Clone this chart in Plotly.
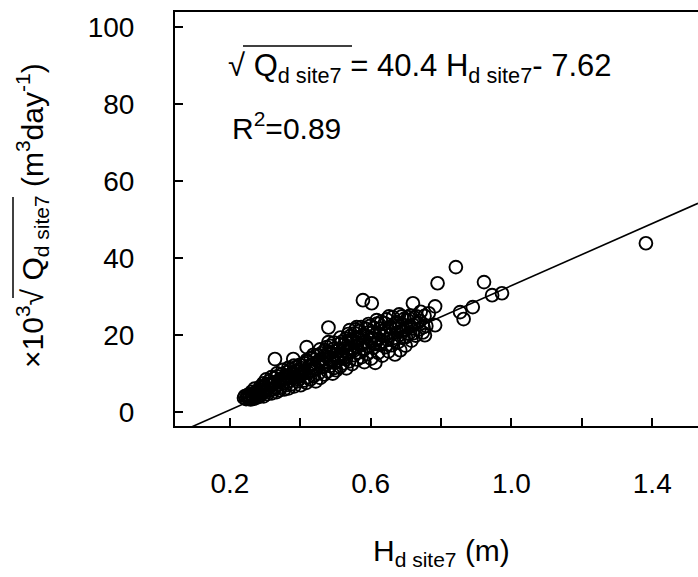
import plotly.graph_objects as go

# ---- data ----
H_d = [
    0.240, 0.243, 0.246, 0.249, 0.251, 0.254, 0.256, 0.259, 0.261, 0.263, 0.266, 0.268,
    0.271, 0.273, 0.276, 0.278, 0.281, 0.283, 0.286, 0.288, 0.291, 0.293, 0.296, 0.298,
    0.301, 0.304, 0.306, 0.309, 0.312, 0.314, 0.317, 0.319, 0.322, 0.325, 0.327, 0.330,
    0.333, 0.335, 0.338, 0.340, 0.343, 0.346, 0.348, 0.351, 0.354, 0.356, 0.359, 0.362,
    0.364, 0.367, 0.370, 0.372, 0.375, 0.378, 0.380, 0.383, 0.386, 0.388, 0.391, 0.394,
    0.396, 0.399,
    0.401, 0.404, 0.406, 0.409, 0.412, 0.414, 0.417, 0.420, 0.422, 0.425, 0.428, 0.430,
    0.433, 0.436, 0.438, 0.441, 0.444, 0.446, 0.449, 0.452, 0.454, 0.457, 0.460, 0.462,
    0.465, 0.468, 0.470, 0.473, 0.476, 0.478, 0.481, 0.484, 0.486, 0.489, 0.492, 0.494,
    0.497, 0.499,
    0.502, 0.505, 0.507, 0.510, 0.513, 0.515, 0.518, 0.521, 0.523, 0.526, 0.529, 0.531,
    0.534, 0.537, 0.539, 0.542, 0.545, 0.547, 0.550, 0.553, 0.555, 0.558, 0.561, 0.563,
    0.566, 0.569, 0.571, 0.574, 0.577, 0.579, 0.582, 0.585, 0.587, 0.590, 0.593, 0.595,
    0.598,
    0.601, 0.604, 0.607, 0.610, 0.613, 0.615, 0.618, 0.621, 0.624, 0.627, 0.630, 0.633,
    0.636, 0.639, 0.642, 0.645, 0.648, 0.651, 0.654, 0.657, 0.660, 0.663, 0.666, 0.669,
    0.672, 0.675, 0.678, 0.681, 0.684, 0.687, 0.690, 0.693, 0.696, 0.699, 0.702, 0.705,
    0.708, 0.712, 0.716, 0.720, 0.724, 0.728, 0.733, 0.738, 0.742, 0.748, 0.753, 0.758,
    0.765,
    0.262, 0.270, 0.279, 0.287, 0.295, 0.303, 0.310, 0.318, 0.326, 0.334, 0.342, 0.350,
    0.358, 0.366, 0.374, 0.382, 0.390, 0.398,
    0.405, 0.411, 0.418, 0.424, 0.431, 0.437, 0.443, 0.450, 0.456, 0.463, 0.469, 0.475,
    0.482, 0.488, 0.495, 0.498,
    0.504, 0.509, 0.514, 0.520, 0.525, 0.530, 0.536, 0.541, 0.546, 0.552, 0.557, 0.562,
    0.568, 0.573, 0.578, 0.584, 0.589, 0.594, 0.599,
    0.605, 0.611, 0.617, 0.622, 0.628, 0.634, 0.640, 0.646, 0.652, 0.658, 0.664, 0.670,
    0.676, 0.682, 0.688, 0.694, 0.700, 0.706, 0.713, 0.721, 0.730, 0.740, 0.750,
    0.328, 0.380, 0.418, 0.480, 0.480, 0.540, 0.560, 0.578, 0.603, 0.720, 0.754, 0.783,
    0.783, 0.790, 0.842, 0.854, 0.864, 0.890, 0.922, 0.945, 0.973, 1.382,
]
Q_d = [
    3.6, 4.1, 3.3, 3.9, 4.4, 3.5, 4.0, 3.2, 4.6, 3.8, 4.2, 3.4,
    5.0, 4.3, 3.7, 5.4, 4.6, 3.9, 5.8, 4.4, 6.3, 5.1, 4.0, 6.8,
    5.3, 7.2, 4.6, 6.0, 8.0, 5.5, 6.9, 4.8, 7.6, 5.9, 8.7, 6.4,
    5.1, 9.2, 7.0, 5.6, 8.1, 6.5, 9.8, 7.4, 5.8, 8.9, 6.9, 10.3,
    7.8, 6.1, 9.4, 11.0, 7.2, 8.6, 10.1, 6.6, 9.0, 11.6, 7.9, 10.5,
    8.4, 12.2,
    6.9, 9.6, 11.3, 8.1, 12.6, 10.2, 7.5, 13.1, 9.0, 11.8, 8.4, 14.0,
    10.7, 12.4, 9.3, 13.6, 7.9, 11.2, 14.7, 10.0, 12.9, 8.8, 15.2, 11.6,
    13.8, 9.7, 16.0, 12.3, 14.4, 10.5, 15.6, 11.9, 17.1, 13.3, 9.9, 16.3,
    12.7, 14.9,
    10.8, 15.8, 13.4, 17.6, 11.7, 14.6, 18.2, 12.6, 16.4, 14.0, 19.0, 11.3,
    15.5, 17.8, 13.1, 19.7, 16.1, 12.4, 18.5, 14.7, 20.4, 16.9, 13.6, 19.3,
    15.4, 21.0, 17.5, 14.2, 19.9, 16.2, 12.9, 21.6, 18.3, 15.0, 20.6, 17.0,
    22.3,
    13.8, 19.1, 16.6, 21.8, 12.7, 18.0, 22.9, 15.3, 20.2, 17.4, 23.4, 14.6,
    19.6, 21.2, 16.8, 24.0, 18.7, 15.7, 22.1, 20.0, 17.3, 24.6, 19.2, 14.9,
    21.5, 23.3, 18.1, 25.3, 16.0, 20.9, 22.7, 19.4, 24.2, 17.2, 21.9, 23.8,
    20.3, 25.0, 18.5, 22.6, 24.5, 19.8, 23.1, 21.4, 26.0, 20.6, 24.9, 22.3,
    25.6,
    5.2, 6.0, 4.9, 6.6, 7.4, 8.4, 7.0, 9.0, 7.6, 10.0, 8.4, 10.9,
    9.3, 11.4, 9.8, 12.0, 10.4, 9.1,
    12.0, 10.6, 13.4, 10.1, 12.2, 14.8, 11.0, 13.1, 16.2, 12.6, 14.6, 16.8,
    13.6, 15.3, 18.0, 11.4,
    14.0, 16.0, 19.3, 15.2, 17.5, 13.7, 20.2, 16.6, 18.8, 15.9, 21.4, 17.8,
    19.0, 22.0, 18.0, 16.4, 19.6, 22.8, 18.6,
    20.6, 17.6, 23.8, 19.0, 21.6, 18.2, 23.0, 20.4, 24.8, 21.8, 18.6, 23.0,
    20.6, 22.4, 24.8, 21.4, 19.4, 24.6, 22.2, 20.4, 24.8, 23.6, 22.0,
    13.7, 13.7, 16.8, 21.9, 18.1, 21.2, 22.0, 29.0, 28.2, 28.2, 19.9, 27.4,
    22.5, 33.4, 37.6, 25.9, 24.1, 27.2, 33.7, 30.3, 30.8, 43.8,
]

slope = 40.4
intercept = -7.62

x_tick_vals = [0.2, 0.4, 0.6, 0.8, 1.0, 1.2, 1.4]
x_tick_text = ["0.2", "", "0.6", "", "1.0", "", "1.4"]
y_tick_vals = [0, 20, 40, 60, 80, 100]
y_tick_text = ["0", "20", "40", "60", "80", "100"]

x_range = [0.044, 1.530]
y_range = [-3.7, 103.9]

FONT = "Liberation Sans, Arial, Helvetica, sans-serif"
TICK_SIZE = 28
ANN_SIZE = 30

fig = go.Figure()

fig.add_trace(go.Scatter(
    x=H_d, y=Q_d, mode="markers",
    marker=dict(symbol="circle-open", size=12.8, color="black",
                line=dict(width=1.9, color="black")),
    showlegend=False, hoverinfo="skip",
))

fig.add_trace(go.Scatter(
    x=x_range, y=[slope * v + intercept for v in x_range], mode="lines",
    line=dict(color="black", width=1.6), showlegend=False, hoverinfo="skip",
))

fig.update_layout(
    width=698, height=577,
    margin=dict(l=175, r=0, t=12, b=151),
    paper_bgcolor="white", plot_bgcolor="white",
    font=dict(family=FONT, size=TICK_SIZE, color="black"),
    xaxis=dict(
        range=x_range, tickmode="array", tickvals=x_tick_vals, ticktext=x_tick_text,
        ticks="inside", ticklen=8, tickwidth=1.5, tickcolor="black",
        showline=True, linewidth=2, linecolor="black", mirror=True,
        showgrid=False, zeroline=False, ticklabelstandoff=31,
        tickfont=dict(family=FONT, size=TICK_SIZE),
    ),
    yaxis=dict(
        range=y_range, tickmode="array", tickvals=y_tick_vals, ticktext=y_tick_text,
        ticks="inside", ticklen=8, tickwidth=1.5, tickcolor="black",
        showline=True, linewidth=2, linecolor="black", mirror=False,
        showgrid=False, zeroline=False, ticklabelstandoff=33,
        tickfont=dict(family=FONT, size=TICK_SIZE),
    ),
)

W, Ht = 523.0, 414.0


def px(xp):
    return (xp - 175) / W


def py(yp):
    return (426 - yp) / Ht


annotations = [
    dict(text="√ Q<sub>d site7</sub> = 40.4 H<sub>d site7</sub>- 7.62",
         x=px(226), y=py(68), xanchor="left", yanchor="middle", size=31),
    dict(text="R<sup>2</sup>=0.89", x=px(230), y=py(126), xanchor="left", yanchor="middle",
         size=30),
    dict(text="H<sub>d site7</sub> (m)", x=px(441), y=py(552), xanchor="center",
         yanchor="middle", size=30),
    dict(text="×10<sup>3</sup>√ Q<sub>d site7</sub> (m<sup>3</sup>day<sup>-1</sup>)",
         x=px(32), y=py(216), xanchor="center", yanchor="middle", textangle=-90, size=30),
]
for a in annotations:
    s = a.pop("size")
    a.update(xref="paper", yref="paper", showarrow=False,
             font=dict(family=FONT, size=s, color="black"))
fig.update_layout(annotations=annotations)

fig.add_shape(type="line", xref="paper", yref="paper",
              x0=px(243), x1=px(352), y0=py(46), y1=py(46),
              line=dict(color="black", width=1.5))
fig.add_shape(type="line", xref="paper", yref="paper",
              x0=px(13), x1=px(13), y0=py(197), y1=py(298),
              line=dict(color="black", width=1.5))

fig.write_html("out.html")
